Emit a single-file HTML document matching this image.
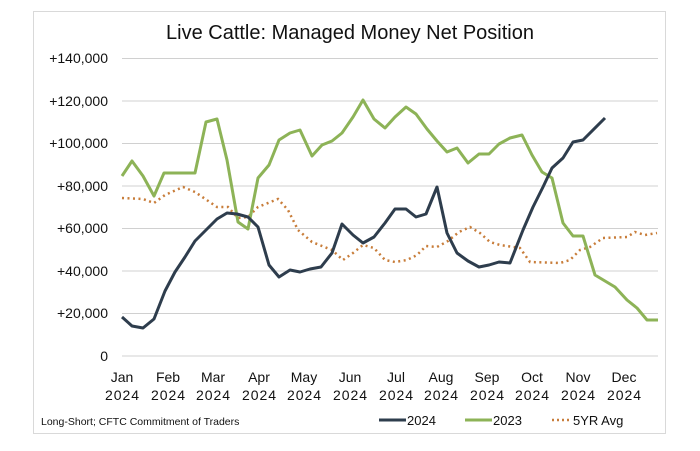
<!DOCTYPE html>
<html><head><meta charset="utf-8"><style>
body{margin:0;background:#fff}
svg text{font-family:"Liberation Sans",sans-serif;fill:#111}
</style></head><body>
<svg width="700" height="446" viewBox="0 0 700 446" xmlns="http://www.w3.org/2000/svg">
<rect x="33.5" y="11.5" width="632" height="422" fill="#fff" stroke="#d9d9d9"/>
<text x="350" y="39" font-size="20" text-anchor="middle">Live Cattle: Managed Money Net Position</text>
<g stroke="#d0d0d0" stroke-width="1">
<line x1="122" y1="58.5" x2="658" y2="58.5"/><line x1="122" y1="101" x2="658" y2="101"/>
<line x1="122" y1="143.5" x2="658" y2="143.5"/><line x1="122" y1="186" x2="658" y2="186"/>
<line x1="122" y1="228.5" x2="658" y2="228.5"/><line x1="122" y1="271" x2="658" y2="271"/>
<line x1="122" y1="313.5" x2="658" y2="313.5"/><line x1="122" y1="356" x2="658" y2="356"/>
</g>
<g font-size="14" text-anchor="end">
<text x="108" y="63">+140,000</text><text x="108" y="106">+120,000</text>
<text x="108" y="148">+100,000</text><text x="108" y="191">+80,000</text>
<text x="108" y="233">+60,000</text><text x="108" y="276">+40,000</text>
<text x="108" y="318">+20,000</text><text x="108" y="361">0</text>
</g>
<g font-size="14" text-anchor="middle">
<text x="122" y="382">Jan</text><text x="122" y="400" textLength="34">2024</text>
<text x="168" y="382">Feb</text><text x="168" y="400" textLength="34">2024</text>
<text x="213" y="382">Mar</text><text x="213" y="400" textLength="34">2024</text>
<text x="259" y="382">Apr</text><text x="259" y="400" textLength="34">2024</text>
<text x="304" y="382">May</text><text x="304" y="400" textLength="34">2024</text>
<text x="350" y="382">Jun</text><text x="350" y="400" textLength="34">2024</text>
<text x="396" y="382">Jul</text><text x="396" y="400" textLength="34">2024</text>
<text x="441" y="382">Aug</text><text x="441" y="400" textLength="34">2024</text>
<text x="487" y="382">Sep</text><text x="487" y="400" textLength="34">2024</text>
<text x="532" y="382">Oct</text><text x="532" y="400" textLength="34">2024</text>
<text x="578" y="382">Nov</text><text x="578" y="400" textLength="34">2024</text>
<text x="624" y="382">Dec</text><text x="624" y="400" textLength="34">2024</text>
</g>
<polyline fill="none" stroke="#c87d3a" stroke-width="2.5" stroke-dasharray="2,3.5" points="122,198 143,199 154,203 165,195 183,187 195,192 217,207 228,207 238,218 248,217 258,207 278,199 288,210 298,230 312,242 332,250 343,260 353,253 363,245 374,248 385,260 395,262 407,260 417,255 426,246 437,247 448,241 459,232 470,227 480,233 490,242 500,245 520,248 530,262 560,263 570,260 580,250 590,247 603,238 627,237 635,232 645,235 657,233"/>
<polyline fill="none" stroke="#8db357" stroke-width="3" stroke-linejoin="round" points="122,176 132,161 143,176 154,196 164,173 195,173 206,122 217,119 227,160 238,222 248,229 258,178 269,165 279,140 290,133 300,130 312,156 322,145 332,141 342,133 353,117 363,100 374,119 385,128 395,117 406,107 416,114 427,129 437,141 447,152 457,148 468,163 479,154 489,154 499,144 510,138 522,135 532,155 542,172 552,178 563,223 573,236 583,236 595,275 615,287 627,300 637,308 647,320 658,320"/>
<polyline fill="none" stroke="#2e3d4d" stroke-width="3" stroke-linejoin="round" points="122,317 132,326 143,328 154,319 165,291 175,272 185,257 195,241 205,231 217,219 227,213 237,214 248,217 258,227 269,265 279,277 290,270 300,272 310,269 321,267 332,253 342,224 353,235 363,243 374,237 385,223 395,209 406,209 416,217 426,214 437,187 447,233 457,253 468,261 479,267 489,265 499,262 510,263 523,230 533,207 543,187 552,168 563,158 573,142 583,140 605,118"/>
<text x="41" y="425" font-size="10.5">Long-Short; CFTC Commitment of Traders</text>
<line x1="379" y1="420" x2="406" y2="420" stroke="#2e3d4d" stroke-width="3"/>
<text x="407" y="425" font-size="13">2024</text>
<line x1="465" y1="420" x2="492" y2="420" stroke="#8db357" stroke-width="3"/>
<text x="493" y="425" font-size="13">2023</text>
<line x1="552" y1="420" x2="571" y2="420" stroke="#c87d3a" stroke-width="2.5" stroke-dasharray="2,3"/>
<text x="573" y="425" font-size="13">5YR Avg</text>
</svg>
</body></html>
